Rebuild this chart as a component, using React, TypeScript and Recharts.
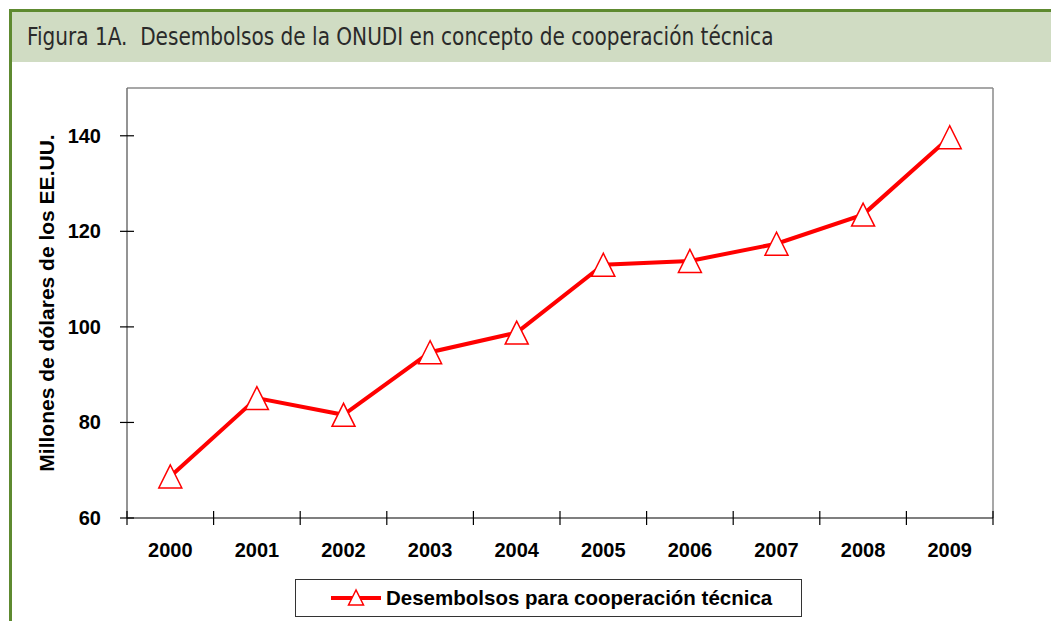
import React from 'react';
import { LineChart, Line, XAxis, YAxis, Label, ReferenceLine } from 'recharts';

const years = ['2000', '2001', '2002', '2003', '2004', '2005', '2006', '2007', '2008', '2009'];
const disbursements = [68.7, 85.1, 81.6, 94.7, 98.8, 113.0, 113.8, 117.4, 123.5, 139.7];
const yTicks = [60, 80, 100, 120, 140];
const yMax = 150;
const seriesName = 'Desembolsos para cooperación técnica';
const title = 'Figura 1A.\u00a0 Desembolsos de la ONUDI en concepto de cooperación técnica';
const yLabel = 'Millones de dólares de los EE.UU.';

const data = years.map((year, i) => ({ year, value: disbursements[i] }));

const green = '#5e8a30';
const headerBg = '#d0dcc3';
const red = '#ff0000';
const frameGray = '#8a8a8a';
const labelFont = '"Liberation Sans", Arial, sans-serif';

const Triangle = (props: any) => {
  const { cx, cy } = props;
  if (cx == null || cy == null) return null;
  const h = 11.5;
  return (
    <polygon
      points={`${cx},${cy - h} ${cx - h},${cy + h} ${cx + h},${cy + h}`}
      fill="#fff"
      stroke={red}
      strokeWidth={1.5}
    />
  );
};

// year label at band centre, cross ticks at the band edges
const YearTick = (props: any) => {
  const { x, y, payload, index, visibleTicksCount } = props;
  const half = payload.offset || 0;
  const last = index === visibleTicksCount - 1;
  return (
    <g>
      <line x1={x - half} x2={x - half} y1={y - 7} y2={y + 7} stroke="#000" strokeWidth={1.2} />
      {last && <line x1={x + half} x2={x + half} y1={y - 7} y2={y + 7} stroke="#000" strokeWidth={1.2} />}
      <text x={x} y={y} dy={39} textAnchor="middle" fontFamily={labelFont} fontWeight="bold" fontSize={20} fill="#000">
        {payload.value}
      </text>
    </g>
  );
};

const YTick = (props: any) => {
  const { x, y, payload } = props;
  return (
    <g>
      <line x1={x - 7} x2={x + 7} y1={y} y2={y} stroke="#000" strokeWidth={1.2} />
      <text x={x - 26} y={y} dy={7} textAnchor="end" fontFamily={labelFont} fontWeight="bold" fontSize={20} fill="#000">
        {payload.value}
      </text>
    </g>
  );
};

const AxisTitle = (props: any) => {
  const vb = props.viewBox;
  const cy = vb.y + vb.height / 2;
  return (
    <text
      x={47}
      y={cy}
      transform={`rotate(-90 47 ${cy})`}
      dy={7}
      textAnchor="middle"
      fontFamily={labelFont}
      fontWeight="bold"
      fontSize={21}
      fill="#000"
    >
      {yLabel}
    </text>
  );
};

export default function App() {
  return (
    <div style={{ position: 'absolute', left: 0, top: 0, width: 1051, height: 621, background: '#fff', overflow: 'hidden' }}>
      {/* frame + header band */}
      <div style={{ position: 'absolute', left: 9, top: 9, width: 1042, height: 3, background: green }} />
      <div style={{ position: 'absolute', left: 9, top: 9, width: 3, height: 612, background: green }} />
      <div style={{ position: 'absolute', left: 12, top: 12, width: 1039, height: 50, background: headerBg }} />
      <div
        style={{
          position: 'absolute',
          left: 27,
          top: 12,
          height: 50,
          color: '#2a2a2a',
          fontFamily: '"Liberation Sans Narrow", "DejaVu Sans Condensed", "Open Sans", sans-serif',
          fontSize: 24,
          lineHeight: '50px',
          whiteSpace: 'nowrap',
          transform: 'scaleX(0.93)',
          transformOrigin: 'left center',
        }}
      >
        {title}
      </div>

      <div style={{ position: 'absolute', left: 0, top: 0 }}>
        <LineChart width={1051} height={621} data={data} margin={{ top: 88, right: 58, bottom: 53, left: 27 }}>
          <XAxis
            dataKey="year"
            scale="band"
            height={50}
            tickLine={false}
            tickSize={0}
            tickMargin={0}
            interval={0}
            tick={<YearTick />}
            axisLine={{ stroke: '#000', strokeWidth: 1.2 }}
          />
          <YAxis
            domain={[60, yMax]}
            ticks={yTicks}
            width={100}
            tickLine={false}
            tickSize={0}
            tickMargin={0}
            tick={<YTick />}
            axisLine={{ stroke: '#707070', strokeWidth: 1.5 }}
            allowDataOverflow
          >
            <Label content={<AxisTitle />} />
          </YAxis>
          {/* plot-area border on top and right */}
          <ReferenceLine y={yMax} stroke={frameGray} strokeWidth={1.5} ifOverflow="visible" />
          <ReferenceLine x={years[years.length - 1]} position="end" stroke={frameGray} strokeWidth={1.5} ifOverflow="visible" />
          <Line
            type="linear"
            dataKey="value"
            name={seriesName}
            stroke={red}
            strokeWidth={4}
            dot={<Triangle />}
            activeDot={false}
            isAnimationActive={false}
          />
        </LineChart>
      </div>

      {/* legend */}
      <div
        style={{
          position: 'absolute',
          left: 295,
          top: 579,
          width: 507,
          height: 38,
          border: '1px solid #333',
          boxSizing: 'border-box',
          display: 'flex',
          alignItems: 'center',
          background: '#fff',
        }}
      >
        <svg width={90} height={36} style={{ flex: 'none' }}>
          <line x1={35} x2={85} y1={18} y2={18} stroke={red} strokeWidth={4} />
          <polygon points="60,10 52.5,25 67.5,25" fill="#fff" stroke={red} strokeWidth={1.5} />
        </svg>
        <span style={{ fontFamily: labelFont, fontWeight: 'bold', fontSize: 20.5, color: '#000', whiteSpace: 'nowrap' }}>
          {seriesName}
        </span>
      </div>
    </div>
  );
}
